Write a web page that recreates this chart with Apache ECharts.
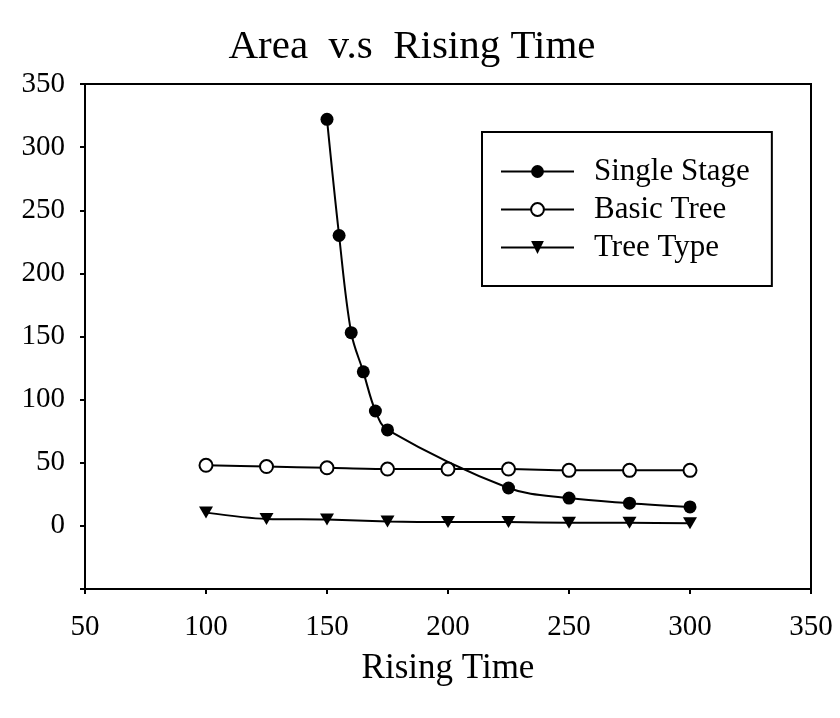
<!DOCTYPE html>
<html><head><meta charset="utf-8">
<script src="https://cdn.jsdelivr.net/npm/echarts@6/dist/echarts.min.js"></script>
<style>html,body{margin:0;padding:0;background:#fff}#c{width:840px;height:718px}</style>
</head><body><div id="c"></div>
<script>
const titleText = 'Area  v.s  Rising Time';
const xName = 'Rising Time';
const seriesNames = ['Single Stage', 'Basic Tree', 'Tree Type'];
const singleX = [150, 155, 160, 165, 170, 175, 225, 250, 275, 300];
const singleY = [322, 230, 153, 122, 91, 76, 30, 22, 18, 15];
const basicX = [100, 125, 150, 175, 200, 225, 250, 275, 300];
const basicY = [48, 47, 46, 45, 45, 45, 44, 44, 44];
const treeX = [100, 125, 150, 175, 200, 225, 250, 275, 300];
const treeY = [10.5, 5.5, 5, 3.5, 3, 3, 2.5, 2.5, 2];

const pair = (xs, ys) => xs.map((x, i) => [x, ys[i]]);
const FONT = 'Liberation Serif';
const chart = echarts.init(document.getElementById('c'));
const lineStyle = { color: '#000', width: 2 };
chart.setOption({
  animation: false,
  backgroundColor: '#fff',
  textStyle: { fontFamily: FONT, color: '#000' },
  title: {
    text: titleText, left: 407, top: 22, textAlign: 'center',
    textStyle: { fontFamily: FONT, fontSize: 41, fontWeight: 'normal', color: '#000' }
  },
  grid: { left: 85, right: 29, top: 84, bottom: 129, show: true, borderColor: '#000', borderWidth: 2, backgroundColor: 'transparent' },
  legend: {
    orient: 'vertical', left: 482, top: 132,
    padding: [24, 22, 23, 18],
    backgroundColor: '#fff', borderColor: '#000', borderWidth: 2,
    itemWidth: 73, itemHeight: 16, itemGap: 7,
    textStyle: { fontFamily: FONT, fontSize: 31, color: '#000', lineHeight: 31, padding: [0, 0, 0, 15] },
    data: seriesNames
  },
  xAxis: {
    type: 'value', min: 50, max: 350, interval: 50,
    name: xName, nameLocation: 'middle', nameGap: 62,
    nameTextStyle: { fontFamily: FONT, fontSize: 35, color: '#000' },
    axisLine: { show: true, onZero: false, lineStyle: { color: '#000', width: 2 } },
    axisTick: { show: true, length: 5, lineStyle: { color: '#000', width: 2 } },
    axisLabel: { fontFamily: FONT, fontSize: 29, color: '#000', margin: 24 },
    splitLine: { show: false }
  },
  yAxis: {
    type: 'value', min: -50, max: 350, interval: 50,
    axisLine: { show: true, onZero: false, lineStyle: { color: '#000', width: 2 } },
    axisTick: { show: true, length: 5, lineStyle: { color: '#000', width: 2 } },
    axisLabel: { fontFamily: FONT, fontSize: 29, color: '#000', margin: 20, formatter: v => (v < 0 ? '' : String(v)) },
    splitLine: { show: false }
  },
  series: [
    { name: seriesNames[0], type: 'line', data: pair(singleX, singleY), smooth: 0.35,
      symbol: 'circle', symbolSize: 13, color: '#000', itemStyle: { color: '#000' }, lineStyle },
    { name: seriesNames[1], type: 'line', data: pair(basicX, basicY), smooth: 0.3,
      symbol: 'emptyCircle', symbolSize: 13, color: '#000', itemStyle: { color: '#000', borderWidth: 1.5 }, lineStyle },
    { name: seriesNames[2], type: 'line', data: pair(treeX, treeY), smooth: 0.3,
      symbol: 'triangle', symbolRotate: 180, symbolSize: [14, 12], color: '#000', itemStyle: { color: '#000' }, lineStyle }
  ]
});
</script></body></html>
